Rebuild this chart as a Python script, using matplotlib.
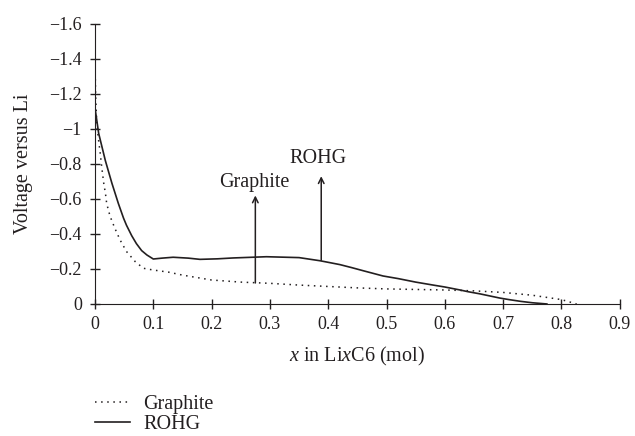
import numpy as np
import matplotlib
matplotlib.use("Agg")
import matplotlib.pyplot as plt

plt.rcParams['font.family'] = ['Liberation Serif', 'DejaVu Serif']
plt.rcParams['mathtext.fontset'] = 'custom'
plt.rcParams['mathtext.it'] = 'Liberation Serif:italic'
plt.rcParams['mathtext.rm'] = 'Liberation Serif'

# (voltage is plotted on an inverted axis)
graphite_x = [0.0, 0.001, 0.003, 0.006, 0.009, 0.012, 0.015, 0.018, 0.02, 0.0235, 0.026, 0.034,
              0.043, 0.054, 0.069, 0.083, 0.1, 0.126, 0.15, 0.2, 0.25, 0.3, 0.35, 0.4, 0.45,
              0.5, 0.55, 0.6, 0.65, 0.7, 0.75, 0.8, 0.826]
graphite_y = [-1.39, -1.2, -1.03, -0.94, -0.86, -0.77, -0.69, -0.63, -0.575, -0.53, -0.5, -0.433,
              -0.366, -0.3, -0.242, -0.204, -0.194, -0.182, -0.165, -0.137, -0.125, -0.118, -0.108, -0.1, -0.092,
              -0.086, -0.083, -0.08, -0.075, -0.066, -0.05, -0.025, 0.0]

rohg_x = [0.0, 0.0063, 0.0177, 0.029, 0.04, 0.049, 0.054, 0.063, 0.071, 0.08, 0.089, 0.1, 0.115,
          0.134, 0.16, 0.18, 0.21, 0.237, 0.294, 0.35, 0.386, 0.4, 0.42, 0.44, 0.46, 0.494, 0.52,
          0.55, 0.58, 0.6, 0.626, 0.64, 0.66, 0.694, 0.71, 0.73, 0.75, 0.775]
rohg_y = [-1.12, -0.975, -0.82, -0.69, -0.575, -0.49, -0.45, -0.39, -0.345, -0.305, -0.28, -0.257, -0.262,
          -0.267, -0.262, -0.255, -0.258, -0.263, -0.27, -0.265, -0.247, -0.238, -0.225, -0.208, -0.19, -0.16, -0.145,
          -0.125, -0.108, -0.097, -0.08, -0.07, -0.058, -0.034, -0.025, -0.015, -0.007, 0.0]

fig = plt.figure(figsize=(6.35, 4.36), dpi=100)
ax = fig.add_axes([0.1496, 0.3028, 0.8264, 0.6422])

ax.plot(graphite_x, graphite_y, color='#231f20', linestyle=(0, (1, 3)), lw=1.1, label='Graphite')
ax.plot(rohg_x, rohg_y, color='#231f20', lw=1.2, label='ROHG')

ax.set_xlim(0, 0.9)
ax.set_ylim(0, -1.6)
ax.set_xticks(np.arange(0, 0.91, 0.1))
ax.set_xticklabels(['0', '0.1', '0.2', '0.3', '0.4', '0.5', '0.6', '0.7', '0.8', '0.9'])
ax.set_yticks(np.arange(0, -1.61, -0.2))
ax.set_yticklabels(['0', '\u22120.2', '\u22120.4', '\u22120.6', '\u22120.8', '\u22121',
                    '\u22121.2', '\u22121.4', '\u22121.6'])

for s in ['top', 'right']:
    ax.spines[s].set_visible(False)
for s in ['left', 'bottom']:
    ax.spines[s].set_color('#231f20')
ax.tick_params(direction='inout', length=7, width=1, colors='#231f20', labelsize=13)
ax.tick_params(axis='x', pad=5)
ax.tick_params(axis='y', pad=6)

ax.set_ylabel('Voltage versus Li', fontsize=14.5, color='#231f20', labelpad=12)
ax.set_xlabel('$x$ in Li$x$C6 (mol)', fontsize=14.5, color='#231f20', labelpad=9)

ax.annotate('', xy=(0.275, -0.62), xytext=(0.275, -0.12),
            arrowprops=dict(arrowstyle='->', color='#231f20', lw=1.1, shrinkA=0, shrinkB=0))
ax.text(0.274, -0.697, 'Graphite', ha='center', va='center', fontsize=14.5, color='#231f20')
ax.annotate('', xy=(0.388, -0.73), xytext=(0.388, -0.25),
            arrowprops=dict(arrowstyle='->', color='#231f20', lw=1.1, shrinkA=0, shrinkB=0))
ax.text(0.383, -0.834, 'ROHG', ha='center', va='center', fontsize=14.5, color='#231f20')

fig.legend(loc='upper left', bbox_to_anchor=(0.134, 0.117), frameon=False, fontsize=14.5,
           handlelength=1.75, handletextpad=0.65, labelspacing=0.05, borderpad=0,
           labelcolor='#231f20')

fig.savefig('out.png', dpi=100)
